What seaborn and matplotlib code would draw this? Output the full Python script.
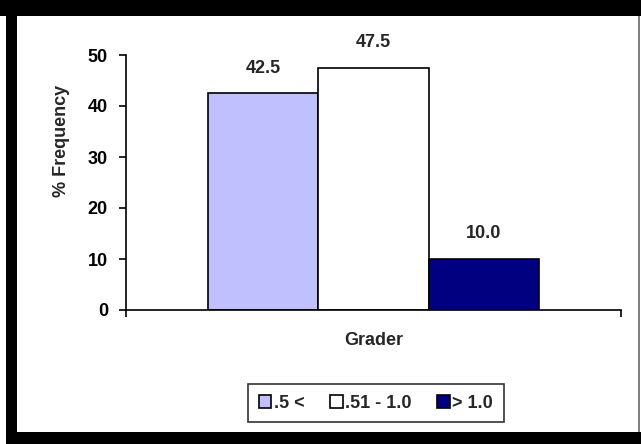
import pandas as pd
import seaborn as sns
import matplotlib.pyplot as plt
from matplotlib.patches import Rectangle

# chart data
category = "Grader"
groups = [".5 <", ".51 - 1.0", "> 1.0"]
freq = [42.5, 47.5, 10.0]
colors = ["#C0C0FF", "#FFFFFF", "#000080"]

df = pd.DataFrame({"x": [category] * len(groups), "group": groups, "freq": freq})

sns.set_style("white")
plt.rcParams["font.family"] = ["Liberation Sans", "DejaVu Sans"]
plt.rcParams["font.weight"] = "bold"
FS = 13

W, H = 641, 444
fig = plt.figure(figsize=(W / 100, H / 100), dpi=100)
fig.patch.set_facecolor("white")

# black frame around the screenshot
def px_rect(x0, y0, x1, y1, color):
    fig.add_artist(Rectangle((x0 / W, 1 - y1 / H), (x1 - x0) / W, (y1 - y0) / H,
                             transform=fig.transFigure, facecolor=color,
                             edgecolor="none", zorder=10))

px_rect(0, 0, W, 16, "black")
px_rect(6, 0, 17, H, "black")
px_rect(6, 432, W, H, "black")
px_rect(638, 16, 640, 432, "#808080")

ax = fig.add_axes([126 / W, 1 - 310 / H, 495 / W, 255 / H])
sns.barplot(data=df, x="x", y="freq", hue="group", palette=colors,
            width=0.669, saturation=1, edgecolor="black", linewidth=1.2, ax=ax)

for cont in ax.containers:
    ax.bar_label(cont, fmt="%.1f", padding=12, fontsize=FS, fontweight="bold")

ax.set_xlim(-0.5, 0.5)
ax.set_ylim(0, 50)
ax.set_yticks(range(0, 51, 10))
ax.set_xticks([-0.5, 0.5])
ax.set_xticklabels(["", ""])
ax.tick_params(axis="both", direction="out", length=5, width=1.2, colors="black",
               labelsize=FS, left=True, bottom=True)
ax.tick_params(axis="y", pad=8)
for lbl in ax.get_yticklabels():
    lbl.set_fontweight("bold")

sns.despine(ax=ax)
for s in ["left", "bottom"]:
    ax.spines[s].set_color("black")
    ax.spines[s].set_linewidth(1.2)

ax.set_xlabel("Grader", fontsize=FS, fontweight="bold")
ax.xaxis.set_label_coords(0.5, -(332 - 310) / 255)
ax.xaxis.label.set_va("top")
ax.set_ylabel("% Frequency", fontsize=FS, fontweight="bold")
ax.yaxis.set_label_coords((62 - 126) / 495, (310 - 141) / 255)
ax.yaxis.label.set_va("center")

ax.legend(loc="center", bbox_to_anchor=(376 / W, 1 - 403 / H),
          bbox_transform=fig.transFigure, ncol=3, frameon=True, fancybox=False,
          edgecolor="black", handlelength=0.7, handleheight=0.7,
          handletextpad=0.15, columnspacing=1.4, borderpad=0.6,
          prop={"weight": "bold", "size": FS})
ax.get_legend().get_frame().set_linewidth(1.2)

fig.savefig("out.png", dpi=100)
